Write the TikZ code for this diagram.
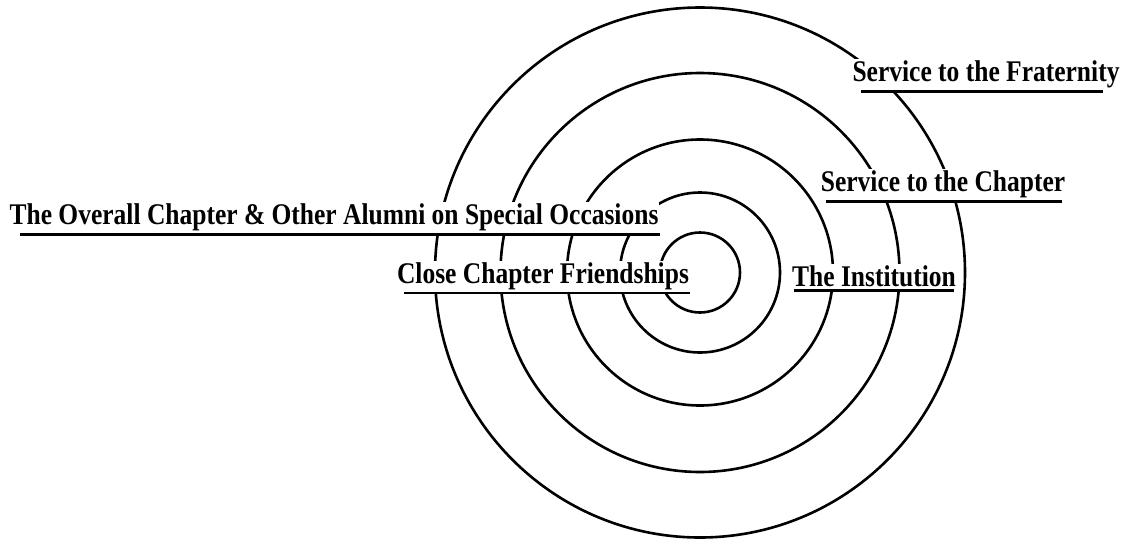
\documentclass[tikz,border=0pt]{standalone}
\usepackage{graphicx}
\usepackage{fontspec}
\setmainfont{Liberation Serif}
\usetikzlibrary{positioning}
\newcommand{\narrow}[1]{\scalebox{0.85}[1]{#1}}

\begin{document}
\begin{tikzpicture}[x=1pt, y=-1pt,
    ring/.style={draw, line width=2.6pt},
    lbl/.style={fill=white, inner xsep=1pt, inner ysep=2.5pt, anchor=south,
      font=\fontsize{30}{32}\selectfont\bfseries},
    uline/.style={line width=3pt},
    thinline/.style={line width=1.3pt}
  ]
  \useasboundingbox (0,0) rectangle (1128,539);
  \coordinate (ctr) at (700,272.5);

  % the five rings
  \foreach \r in {265,199.5,133,80,40}
    \draw[ring] (ctr) circle[radius=\r];

  % labels, each one sits on its own rule
  \node[lbl] (frat) at (986,91) {\narrow{Service to the Fraternity}};
  \node[lbl] (chap) at (943,201) {\narrow{Service to the Chapter}};
  \node[lbl] (overall) at (334,234) {\narrow{The Overall Chapter \& Other Alumni on Special Occasions}};
  \node[lbl] (close) at (543,293) {\narrow{Close Chapter Friendships}};
  \node[lbl] (inst) at (874,290) {\narrow{The Institution}};

  \draw[uline] ([xshift=10pt]frat.south west) -- ([xshift=-18pt]frat.south east);
  \draw[uline] ([xshift=6pt]chap.south west) -- ([xshift=-4pt]chap.south east);
  \draw[uline] ([xshift=12pt]overall.south west) -- (overall.south east);
  \draw[thinline] ([xshift=8pt]close.south west) -- (close.south east);
  \draw[uline] ([xshift=3pt]inst.south west) -- ([xshift=-3pt]inst.south east);
\end{tikzpicture}
\end{document}
